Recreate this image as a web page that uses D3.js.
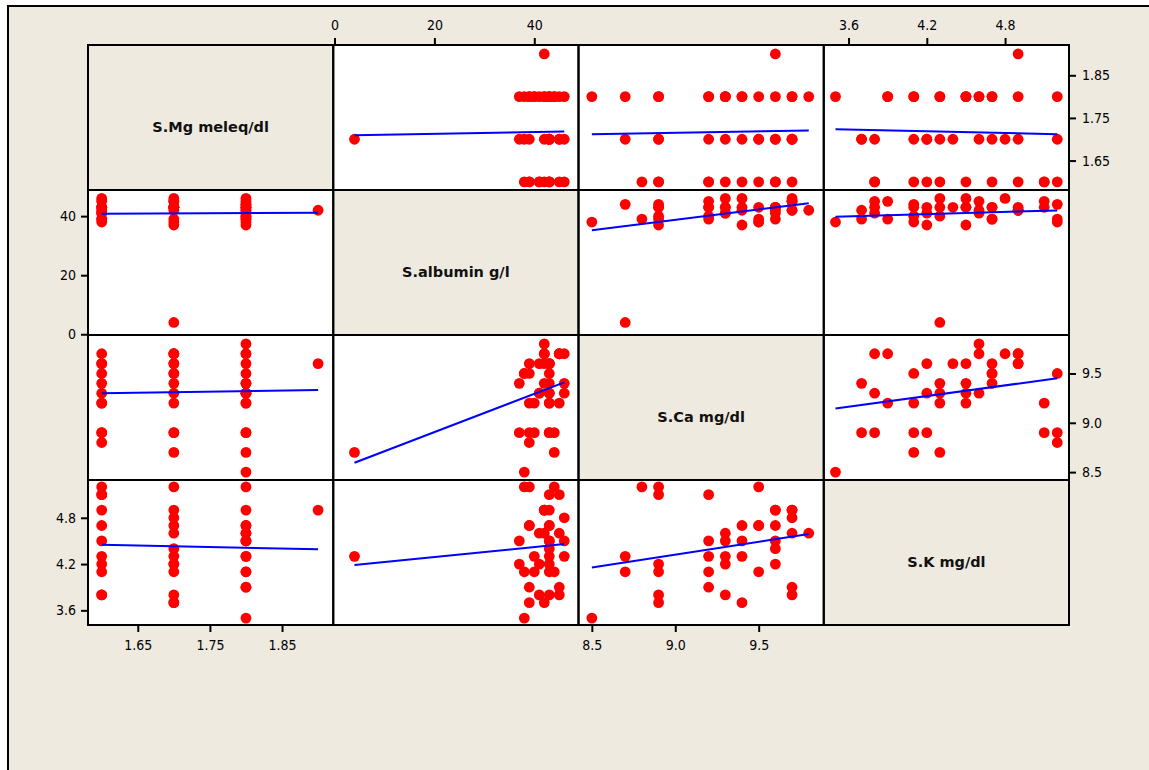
<!DOCTYPE html>
<html>
<head>
<meta charset="utf-8">
<script src="https://cdn.jsdelivr.net/npm/d3@7"></script>
<style>
  html, body { margin: 0; padding: 0; background: #ffffff; }
  svg { display: block; }
</style>
</head>
<body>
<svg id="chart" width="1149" height="770"></svg>
<script>
// ---------------- data ----------------
const varNames = ["S.Mg meleq/dl", "S.albumin g/l", "S.Ca mg/dl", "S.K mg/dl"];

const mg = [
  1.6, 1.6, 1.6, 1.6, 1.6, 1.6, 1.6, 1.6, 1.6, 1.6, 1.6,
  1.7, 1.7, 1.7, 1.7, 1.7, 1.7, 1.7, 1.7, 1.7, 1.7, 1.7, 1.7, 1.7,
  1.8, 1.8, 1.8, 1.8, 1.8, 1.8, 1.8, 1.8, 1.8, 1.8, 1.8, 1.8, 1.8, 1.8, 1.8, 1.8,
  1.9
];
const albumin = [
  39, 43, 45, 41, 38, 41, 46, 43, 39, 42, 43,
  43, 46, 39, 42, 4, 43, 43, 45, 45, 43, 43, 38, 37,
  38, 42, 39, 45, 44, 44, 40, 40, 41, 46, 43, 43, 37, 43, 39, 42,
  42
];
const ca = [
  8.8, 8.9, 9.2, 9.3, 9.5, 9.6, 9.4, 9.2, 9.6, 9.7, 8.9,
  9.6, 9.7, 8.9, 9.4, 8.7, 9.2, 9.3, 9.7, 9.7, 9.5, 9.6, 9.5, 8.9,
  8.5, 9.8, 9.2, 9.7, 8.7, 8.9, 8.9, 9.2, 9.3, 9.3, 9.3, 9.4, 9.4, 9.6, 9.5, 9.7,
  9.6
];
const k = [
  5.2, 5.1, 5.1, 3.8, 4.1, 4.2, 4.3, 4.5, 4.7, 4.9, 3.8,
  4.4, 4.8, 3.7, 3.7, 4.3, 4.1, 4.2, 3.8, 4.6, 4.7, 4.9, 5.2, 4.2,
  3.5, 4.6, 3.9, 3.9, 4.1, 5.2, 4.1, 4.3, 4.6, 4.5, 4.3, 4.7, 4.5, 4.5, 4.7, 4.9,
  4.9
];

// tick labels per variable
const mgTicks = [1.65, 1.75, 1.85];
const albuminTicks = [0, 20, 40];
const caTicks = [8.5, 9.0, 9.5];
const kTicks = [3.6, 4.2, 4.8];

// axis ranges (data units) per variable
const mgRange = [1.581, 1.921];
const albuminRange = [-0.25, 48.85];
const caRange = [8.42, 9.89];
const kRange = [3.41, 5.29];

// ---------------- drawing ----------------
(function () {
const columns = [mg, albumin, ca, k];
const ticks = [mgTicks, albuminTicks, caTicks, kTicks];
const ranges = [mgRange, albuminRange, caRange, kRange];
const formats = [d3.format(".2f"), d3.format("d"), d3.format(".1f"), d3.format(".1f")];
const n = mg.length;
const rows = d3.range(n).map(i => columns.map(c => c[i]));

const BG = "#eeeae0";
const svg = d3.select("#chart");

// outer frame
svg.append("rect").attr("x", 0).attr("y", 0).attr("width", 1149).attr("height", 770).attr("fill", "#ffffff");
svg.append("rect").attr("x", 8).attr("y", 6).attr("width", 1160).attr("height", 790)
  .attr("fill", BG).attr("stroke", "#000").attr("stroke-width", 2);

const gl = 88, gt = 45, gr = 1069, gb = 625;
const cw = (gr - gl) / 4, ch = (gb - gt) / 4;

const xs = ranges.map((r, j) => d3.scaleLinear().domain(r).range([gl + j * cw, gl + (j + 1) * cw]));
const ys = ranges.map((r, i) => d3.scaleLinear().domain(r).range([gt + (i + 1) * ch, gt + i * ch]));

const fontTick = "'DejaVu Sans Condensed', 'Liberation Sans Narrow', 'DejaVu Sans', sans-serif";

for (let i = 0; i < 4; i++) {
  for (let j = 0; j < 4; j++) {
    const g = svg.append("g");
    const x0 = gl + j * cw, y0 = gt + i * ch;
    g.append("rect").attr("x", x0).attr("y", y0).attr("width", cw).attr("height", ch)
      .attr("fill", i === j ? BG : "#ffffff");
    if (i === j) {
      g.append("text")
        .attr("x", x0 + cw / 2).attr("y", y0 + ch / 2 + 9)
        .attr("text-anchor", "middle").attr("dominant-baseline", "central")
        .attr("font-family", "'DejaVu Sans', Verdana, sans-serif")
        .attr("font-weight", "bold").attr("font-size", 14.5)
        .attr("fill", "#111")
        .text(varNames[i]);
      continue;
    }
    const xS = xs[j], yS = ys[i];
    g.selectAll("circle").data(rows).join("circle")
      .attr("cx", d => xS(d[j])).attr("cy", d => yS(d[i]))
      .attr("r", 5.4).attr("fill", "#ff0000");
    // least squares fit of variable i on variable j
    const xv = columns[j], yv = columns[i];
    const mx = d3.mean(xv), my = d3.mean(yv);
    let sxy = 0, sxx = 0;
    for (let t = 0; t < n; t++) { sxy += (xv[t] - mx) * (yv[t] - my); sxx += (xv[t] - mx) ** 2; }
    const b = sxy / sxx, a = my - b * mx;
    const [xmin, xmax] = d3.extent(xv);
    g.append("line")
      .attr("x1", xS(xmin)).attr("y1", yS(a + b * xmin))
      .attr("x2", xS(xmax)).attr("y2", yS(a + b * xmax))
      .attr("stroke", "#0000ff").attr("stroke-width", 2);
  }
}

// panel borders
for (let i = 0; i < 4; i++) {
  for (let j = 0; j < 4; j++) {
    svg.append("rect").attr("x", gl + j * cw).attr("y", gt + i * ch)
      .attr("width", cw).attr("height", ch)
      .attr("fill", "none").attr("stroke", "#000").attr("stroke-width", 2);
  }
}

function styleAxis(g) {
  g.select(".domain").remove();
  g.selectAll(".tick line").attr("stroke", "#000").attr("stroke-width", 2);
  g.selectAll(".tick text").attr("font-family", fontTick).attr("font-size", 14).attr("fill", "#000");
}

[1, 3].forEach(j => {
  svg.append("g").attr("transform", `translate(0,${gt})`)
    .call(d3.axisTop(xs[j]).tickValues(ticks[j]).tickFormat(formats[j]).tickSize(7).tickPadding(8))
    .call(styleAxis);
});
[0, 2].forEach(j => {
  svg.append("g").attr("transform", `translate(0,${gb})`)
    .call(d3.axisBottom(xs[j]).tickValues(ticks[j]).tickFormat(formats[j]).tickSize(7).tickPadding(8))
    .call(styleAxis);
});
[1, 3].forEach(i => {
  svg.append("g").attr("transform", `translate(${gl},0)`)
    .call(d3.axisLeft(ys[i]).tickValues(ticks[i]).tickFormat(formats[i]).tickSize(7).tickPadding(5))
    .call(styleAxis);
});
[0, 2].forEach(i => {
  svg.append("g").attr("transform", `translate(${gr},0)`)
    .call(d3.axisRight(ys[i]).tickValues(ticks[i]).tickFormat(formats[i]).tickSize(7).tickPadding(6))
    .call(styleAxis);
});
})();
</script>
</body>
</html>
